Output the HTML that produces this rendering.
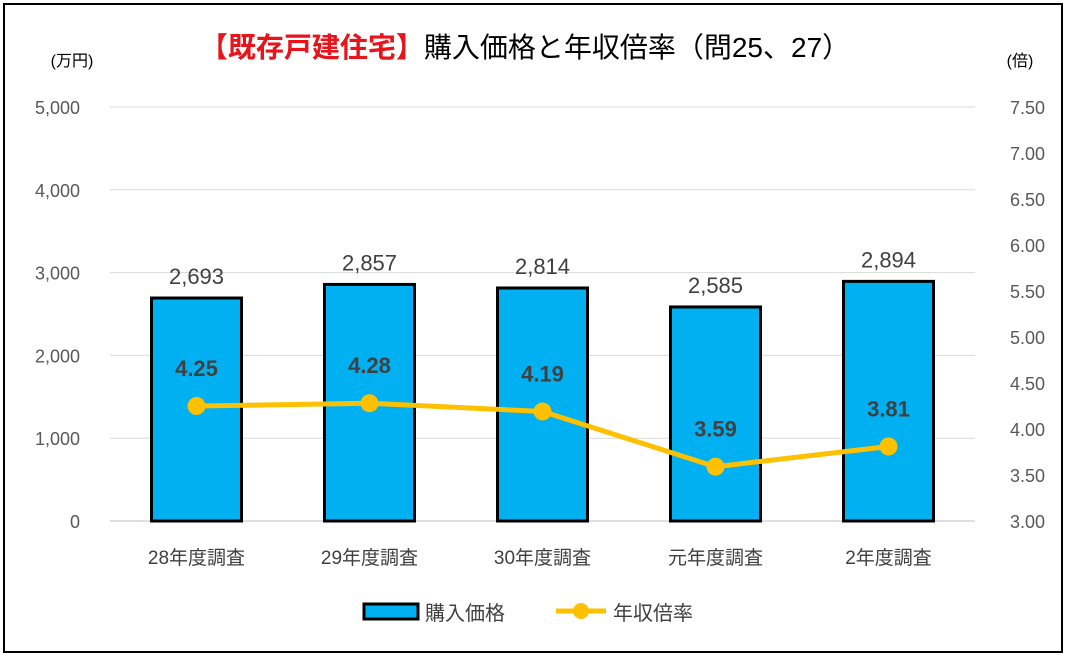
<!DOCTYPE html>
<html><head><meta charset="utf-8"><style>
body{margin:0;background:#fff;}
svg{display:block;font-family:"Liberation Sans","Noto Sans CJK JP",sans-serif;}
</style></head><body>
<svg id="chart" width="1067" height="658">
<rect x="4" y="4" width="1058" height="648" fill="#fff" stroke="#000" stroke-width="2"/>
<text x="525" y="57" text-anchor="middle" font-size="28"><tspan fill="#e8141b" font-weight="bold">【既存戸建住宅】</tspan><tspan fill="#000">購入価格と年収倍率（問25、27）</tspan></text>
<text x="72" y="66" text-anchor="middle" font-size="16" fill="#000">(万円)</text>
<text x="1020" y="66" text-anchor="middle" font-size="16" fill="#000">(倍)</text>
<g id="grid"></g><g id="bars"></g><g id="line"></g><g id="labels"></g>
<g>
<rect x="364" y="604" width="54" height="15" fill="#00b0f0" stroke="#000" stroke-width="3"/>
<text x="425" y="620" font-size="20" fill="#404040">購入価格</text>
<line x1="556" y1="611" x2="606" y2="611" stroke="#ffc000" stroke-width="5"/>
<circle cx="581" cy="611" r="8" fill="#ffc000"/>
<text x="613" y="620" font-size="20" fill="#404040">年収倍率</text>
</g>
</svg>
<script>
const categories=["28年度調査","29年度調査","30年度調査","元年度調査","2年度調査"];
const prices=[2693,2857,2814,2585,2894];
const ratios=[4.25,4.28,4.19,3.59,3.81];
const leftTicks=[0,1000,2000,3000,4000,5000];
const rightTicks=[3.0,3.5,4.0,4.5,5.0,5.5,6.0,6.5,7.0,7.5];
const NS="http://www.w3.org/2000/svg";
const x0=110,x1=975,yB=521,yT=107;
const yL=v=>yB-(v/5000)*(yB-yT);
const yR=v=>yB-((v-3)/4.5)*(yB-yT);
const band=(x1-x0)/categories.length;
const xc=i=>x0+band*(i+0.5);
function mk(tag,attrs,parent){const e=document.createElementNS(NS,tag);for(const k in attrs)e.setAttribute(k,attrs[k]);document.getElementById(parent).appendChild(e);return e;}
leftTicks.forEach(t=>{
 const l=mk('line',{x1:x0,x2:x1,y1:yL(t),y2:yL(t),stroke:t===0?'#bfbfbf':'#d9d9d9','stroke-width':1},'grid');
 
 
 const tx=mk('text',{x:80,y:yL(t)+7,'text-anchor':'end','font-size':18,fill:'#595959'},'grid');
 tx.textContent=t.toLocaleString('en-US');
 
 
});
rightTicks.forEach(t=>{
 const tx=mk('text',{x:1045,y:yR(t)+7,'text-anchor':'end','font-size':18,fill:'#595959'},'grid');
 tx.textContent=t.toFixed(2);
 
 
});
const bw=90;
prices.forEach((v,i)=>{
 const r=mk('rect',{x:xc(i)-bw/2,y:yL(v),width:bw,height:yB-yL(v),fill:'#00b0f0',stroke:'#000','stroke-width':3},'bars');
 
 
 const t=mk('text',{x:xc(i),y:yL(v)-14,'text-anchor':'middle','font-size':22,fill:'#404040'},'labels');
 t.textContent=v.toLocaleString('en-US');
 
 
 const c=mk('text',{x:xc(i),y:564,'text-anchor':'middle','font-size':19,fill:'#404040'},'labels');
 c.textContent=categories[i];
 
 
});
const pl=mk('polyline',{points:ratios.map((v,i)=>xc(i)+','+yR(v)).join(' '),fill:'none',stroke:'#ffc000','stroke-width':5,'stroke-linejoin':'round'},'line');


ratios.forEach((v,i)=>{
 const c=mk('circle',{cx:xc(i),cy:yR(v),r:9,fill:'#ffc000'},'line');
 
 
 const t=mk('text',{x:xc(i),y:yR(v)-30,'text-anchor':'middle','font-size':22,'font-weight':'bold',fill:'#404040'},'labels');
 t.textContent=v.toFixed(2);
 
 
});
</script>
</body></html>
